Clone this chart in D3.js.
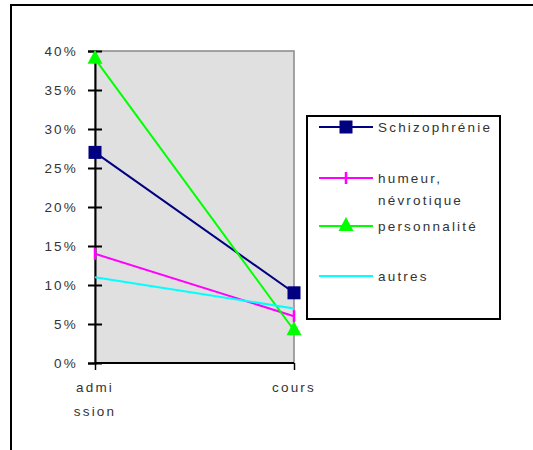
<!DOCTYPE html>
<html>
<head>
<meta charset="utf-8">
<script src="https://cdn.jsdelivr.net/npm/d3@7"></script>
<style>
  body { margin: 0; background: #fff; }
  text { font-family: "Liberation Sans", Arial, sans-serif; font-size: 13.5px; fill: #333; letter-spacing: 2.2px; }
</style>
</head>
<body>
<div id="chart"></div>
<script>
// categories and series (percent)
var categories = ["admission", "cours"];
var catLabels = [["admi", "ssion"], ["cours"]];
var schizo = [27, 9];
var humeur = [14, 6];
var perso = [39, 4.2];
var autres = [11, 7];
var yTicks = [0, 5, 10, 15, 20, 25, 30, 35, 40];

var series = [
    {name: ["Schizophrénie"], values: schizo, color: "#000080", marker: "square"},
    {name: ["humeur,", "névrotique"], values: humeur, color: "#ff00ff", marker: "bar"},
    {name: ["personnalité"], values: perso, color: "#00ff00", marker: "triangle"},
    {name: ["autres"], values: autres, color: "#00ffff", marker: "none"}
];

var W = 533, H = 450;
var plot = {left: 95, right: 294, top: 51, bottom: 363};

var svg = d3.select("#chart").append("svg")
    .attr("width", W)
    .attr("height", H);

// outer frame
svg.append("rect")
    .attr("x", 11).attr("y", 5)
    .attr("width", 540).attr("height", 460)
    .attr("fill", "none").attr("stroke", "#000").attr("stroke-width", 2);

var x = d3.scalePoint().domain(categories).range([plot.left, plot.right]);
var y = d3.scaleLinear().domain([0, 40]).range([plot.bottom, plot.top]);

// plot background
svg.append("rect")
    .attr("x", plot.left).attr("y", plot.top)
    .attr("width", plot.right - plot.left).attr("height", plot.bottom - plot.top)
    .attr("fill", "#e0e0e0").attr("stroke", "#888").attr("stroke-width", 1.5);

// y axis
var yAxis = svg.append("g")
    .attr("transform", "translate(" + plot.left + ",0)")
    .call(d3.axisLeft(y).tickValues(yTicks).tickSize(7).tickPadding(10)
        .tickFormat(function(d) { return d + "%"; }));
yAxis.select(".domain").attr("stroke", "#000").attr("stroke-width", 2);
yAxis.selectAll(".tick line").attr("x1", -7).attr("x2", 7).attr("stroke", "#000").attr("stroke-width", 2);
yAxis.selectAll(".tick text").attr("font-size", null).attr("font-family", null).attr("fill", "#333").attr("dy", "0.35em");

// x axis
var xAxis = svg.append("g")
    .attr("transform", "translate(0," + plot.bottom + ")")
    .call(d3.axisBottom(x).tickSize(7).tickFormat(""));
xAxis.select(".domain").attr("stroke", "#000").attr("stroke-width", 2).attr("d", "M" + plot.left + ",0H" + plot.right);
xAxis.selectAll(".tick line").attr("stroke", "#000").attr("stroke-width", 1.5);

categories.forEach(function(c, i) {
    var t = svg.append("text")
        .attr("x", x(c)).attr("y", 392)
        .attr("text-anchor", "middle");
    catLabels[i].forEach(function(s, j) {
        t.append("tspan").attr("x", x(c)).attr("dy", j ? 24 : 0).text(s);
    });
});

var line = d3.line()
    .x(function(d, i) { return x(categories[i]); })
    .y(function(d) { return y(d); });

function drawMarker(g, type, color, cx, cy) {
    if (type == "square") {
        g.append("rect").attr("x", cx - 6.5).attr("y", cy - 6.5)
            .attr("width", 13).attr("height", 13).attr("fill", color);
    } else if (type == "bar") {
        g.append("line").attr("x1", cx).attr("x2", cx).attr("y1", cy - 6).attr("y2", cy + 6)
            .attr("stroke", color).attr("stroke-width", 2.5);
    } else if (type == "triangle") {
        g.append("path")
            .attr("d", "M" + cx + "," + (cy - 9) + "L" + (cx + 7.5) + "," + (cy + 5) + "L" + (cx - 7.5) + "," + (cy + 5) + "Z")
            .attr("fill", color);
    }
}

series.forEach(function(s) {
    svg.append("path")
        .datum(s.values)
        .attr("d", line)
        .attr("fill", "none")
        .attr("stroke", s.color)
        .attr("stroke-width", 2);
});
series.forEach(function(s) {
    var g = svg.append("g");
    s.values.forEach(function(v, i) {
        drawMarker(g, s.marker, s.color, x(categories[i]), y(v));
    });
});

// legend
var legend = svg.append("g");
legend.append("rect")
    .attr("x", 307).attr("y", 116).attr("width", 193).attr("height", 203)
    .attr("fill", "#fff").attr("stroke", "#000").attr("stroke-width", 2);
var legY = [127, 178, 226, 276];
series.forEach(function(s, i) {
    var ly = legY[i];
    legend.append("line")
        .attr("x1", 319).attr("x2", 373).attr("y1", ly).attr("y2", ly)
        .attr("stroke", s.color).attr("stroke-width", 2);
    drawMarker(legend, s.marker, s.color, 346, ly);
    var t = legend.append("text").attr("x", 378).attr("y", ly).attr("dy", "0.35em");
    s.name.forEach(function(n, j) {
        t.append("tspan").attr("x", 378).attr("dy", j ? 22 : "0.35em").text(n);
    });
});
</script>
</body>
</html>
